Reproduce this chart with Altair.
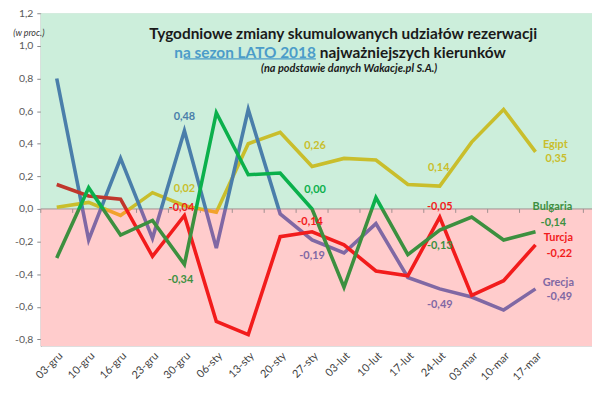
import altair as alt
import pandas as pd

# ---------------- data ----------------
categories = ["03-gru", "10-gru", "16-gru", "23-gru", "30-gru", "06-sty", "13-sty", "20-sty",
              "27-sty", "03-lut", "10-lut", "17-lut", "24-lut", "03-mar", "10-mar", "17-mar"]
egipt = [0.01, 0.04, -0.04, 0.10, 0.02, -0.02, 0.40, 0.47, 0.26, 0.31, 0.30, 0.15, 0.14, 0.41, 0.61, 0.35]
grecja = [0.80, -0.19, 0.31, -0.18, 0.48, -0.24, 0.61, -0.03, -0.19, -0.27, -0.09, -0.42, -0.49, -0.54, -0.62, -0.49]
turcja = [0.15, 0.08, 0.06, -0.29, -0.04, -0.69, -0.77, -0.17, -0.14, -0.22, -0.38, -0.41, -0.05, -0.53, -0.44, -0.22]
bulgaria = [-0.30, 0.13, -0.16, -0.07, -0.34, 0.59, 0.21, 0.22, 0.00, -0.48, 0.07, -0.28, -0.13, -0.05, -0.19, -0.14]
series_names = ["Egipt", "Grecja", "Turcja", "Bulgaria"]
series_values = {"Egipt": egipt, "Grecja": grecja, "Turcja": turcja, "Bulgaria": bulgaria}
y_ticks = [-0.8, -0.6, -0.4, -0.2, 0.0, 0.2, 0.4, 0.6, 0.8, 1.0, 1.2]

title_1 = "Tygodniowe zmiany skumulowanych udziałów rezerwacji"
title_2a = "na sezon LATO 2018"
title_2b = "najważniejszych kierunków"
title_3 = "(na podstawie danych Wakacje.pl S.A.)"
unit_text = "(w proc.)"

# ---------------- style ----------------
FONT = "Lato"
W, H = 555, 335
YMIN, YMAX = -0.84, 1.2
XMIN, XMAX = -0.5, 16.77
GREEN_BG, PINK_BG = "#CCEEDB", "#FFCCCC"
colors = {  # (above zero, below zero)
    "Egipt": ("#C9BE2C", "#F2A22C"),
    "Grecja": ("#4A7EAA", "#8068A4"),
    "Turcja": ("#C0372C", "#F21C1C"),
    "Bulgaria": ("#0BB04C", "#3C903F"),
}
draw_order = ["Egipt", "Grecja", "Turcja", "Bulgaria"]

xscale = alt.Scale(domain=[XMIN, XMAX], nice=False, zero=False)
yscale = alt.Scale(domain=[YMIN, YMAX], nice=False, zero=False)

label_expr = "[" + ",".join("'" + c + "'" for c in categories) + "][datum.value]"
xaxis = alt.Axis(values=list(range(len(categories))), labelExpr=label_expr, title=None,
                 ticks=False, domain=False, grid=False, labelAngle=315, labelAlign="right",
                 labelBaseline="middle", labelPadding=8, labelOffset=4, labelFont=FONT,
                 labelFontSize=11, labelColor="#404040", labelOverlap=False)
yaxis = alt.Axis(values=y_ticks, format=".1f",
                 labelExpr="replace(replace(datum.label, '.', ','), '\u2212', '-')",
                 title=None, grid=False, tickSize=4, tickColor="#888888", domainColor="#888888",
                 labelFont=FONT, labelFontSize=10.5, labelColor="#595959", labelPadding=4,
                 labelOverlap=False, labelBound=False, labelFlush=False)

X = alt.X("x:Q", scale=xscale, axis=xaxis)
Y = alt.Y("v:Q", scale=yscale, axis=yaxis)


def ydat(v):
    return alt.YDatum(v, type="quantitative", scale=yscale, axis=yaxis)


one = pd.DataFrame({"a": [0]})

bg_up = alt.Chart(one).mark_rect(color=GREEN_BG).encode(
    x=alt.value(0), x2=alt.value(W), y=ydat(0), y2=alt.datum(YMAX))
bg_down = alt.Chart(one).mark_rect(color=PINK_BG).encode(
    x=alt.value(0), x2=alt.value(W), y=ydat(YMIN), y2=alt.datum(0))
zero_line = alt.Chart(one).mark_rule(color="#A09090", strokeWidth=1).encode(
    x=alt.value(0), x2=alt.value(W), y=ydat(0))
bounds = pd.DataFrame({"x": [k + 0.5 for k in range(-1, 17)]})
zero_ticks = alt.Chart(bounds).mark_rule(color="#A09090", strokeWidth=1).encode(
    x=alt.X("x:Q", scale=xscale, axis=xaxis), y=ydat(0), y2=alt.datum(-0.024))

layers = [bg_up, bg_down, zero_line, zero_ticks]

for name in draw_order:
    vals = series_values[name]
    df = pd.DataFrame({"x": list(range(len(categories))), "v": vals})
    vmax, vmin = max(vals), min(vals)
    off = vmax / (vmax - vmin)
    up, dn = colors[name]
    grad = alt.LinearGradient(
        gradient="linear", x1=0, x2=0, y1=0, y2=1,
        stops=[alt.GradientStop(color=up, offset=0), alt.GradientStop(color=up, offset=off),
               alt.GradientStop(color=dn, offset=off), alt.GradientStop(color=dn, offset=1)])
    layers.append(alt.Chart(df).mark_line(color=grad, strokeWidth=3.6).encode(x=X, y=Y))


def fmt(v):
    return f"{v:.2f}".replace(".", ",")


# (series, category index, dx, dy)
point_labels = [
    ("Grecja", 4, 0, -14), ("Egipt", 4, 0, -17), ("Turcja", 4, -3, -8), ("Bulgaria", 4, -4, 16),
    ("Egipt", 8, 3, -21), ("Bulgaria", 8, 3, -19), ("Turcja", 8, -2, -10), ("Grecja", 8, 0, 16),
    ("Egipt", 12, -1, -18), ("Turcja", 12, 0, -10), ("Bulgaria", 12, 0, 16), ("Grecja", 12, 0, 16),
]
for name, i, dx, dy in point_labels:
    v = series_values[name][i]
    c = colors[name][0] if v >= 0 else colors[name][1]
    df = pd.DataFrame({"x": [i], "v": [v], "t": [fmt(v)]})
    layers.append(alt.Chart(df).mark_text(font=FONT, fontSize=11, fontWeight="bold", color=c,
                                          dx=dx, dy=dy).encode(x=X, y=Y, text="t:N"))

# right-hand series names + last values: (series, dx, dy_name, dy_value)
end_labels = [("Egipt", 20, -7, 7), ("Bulgaria", 17, -25, -9), ("Turcja", 23, -7, 9), ("Grecja", 23, -6, 8)]
last = len(categories) - 1
for name, dx, dyn, dyv in end_labels:
    v = series_values[name][last]
    c = colors[name][0] if v >= 0 else colors[name][1]
    df = pd.DataFrame({"x": [last], "v": [v], "n": [name], "t": [fmt(v)]})
    base = alt.Chart(df)
    layers.append(base.mark_text(font=FONT, fontSize=11, fontWeight="bold", color=c, dx=dx, dy=dyn)
                  .encode(x=X, y=Y, text="n:N"))
    layers.append(base.mark_text(font=FONT, fontSize=11, fontWeight="bold", color=c, dx=dx + 1, dy=dyv)
                  .encode(x=X, y=Y, text="t:N"))

# titles
TITLE_BLUE = "#4B9CC9"
layers.append(alt.Chart(one).mark_text(text=title_1, font=FONT, fontSize=15.5, fontWeight="bold",
                                       color="#1A1A1A", align="center", baseline="middle")
              .encode(x=alt.value(304.5), y=alt.value(21)))
layers.append(alt.Chart(one).mark_text(text=title_2a, font=FONT, fontSize=15.5, fontWeight="bold",
                                       color=TITLE_BLUE, align="right", baseline="middle")
              .encode(x=alt.value(277), y=alt.value(40)))
layers.append(alt.Chart(one).mark_rule(color=TITLE_BLUE, strokeWidth=1.2)
              .encode(x=alt.value(144), x2=alt.value(277), y=alt.value(46)))
layers.append(alt.Chart(one).mark_text(text=title_2b, font=FONT, fontSize=15.5, fontWeight="bold",
                                       color="#1A1A1A", align="left", baseline="middle")
              .encode(x=alt.value(281), y=alt.value(40)))
layers.append(alt.Chart(one).mark_text(text=title_3, font=FONT, fontSize=11, fontWeight="bold",
                                       fontStyle="italic", color="#1A1A1A", align="center",
                                       baseline="middle")
              .encode(x=alt.value(310.5), y=alt.value(56)))
layers.append(alt.Chart(one).mark_text(text=unit_text, font=FONT, fontSize=9, fontStyle="italic",
                                       color="#333333", align="center", baseline="middle")
              .encode(x=alt.value(-12), y=alt.value(20)))

chart = alt.layer(*layers).properties(
    width=W, height=H,
    autosize=alt.AutoSizeParams(type="none"),
    padding={"left": 33, "top": 4, "right": 0, "bottom": 36},
).configure_view(stroke=None).configure(background="white").configure_axisY(labelOverlap=False)

chart.save("out.html", embed_options={"renderer": "svg", "actions": False})
